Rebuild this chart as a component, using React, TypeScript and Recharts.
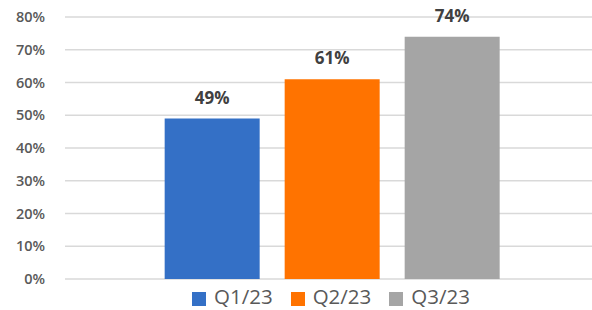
import { Bar, BarChart, CartesianGrid, LabelList, Legend, XAxis, YAxis } from 'recharts'

const categories = ['Q']
const q1 = [49]
const q2 = [61]
const q3 = [74]
const yTicks = [0, 10, 20, 30, 40, 50, 60, 70, 80]

const data = categories.map((name, i) => ({
  name,
  'Q1/23': q1[i],
  'Q2/23': q2[i],
  'Q3/23': q3[i],
}))

const FONT = '"Open Sans", sans-serif'

export default function App() {
  return (
    <div style={{ position: 'absolute', left: 0, top: 0, fontFamily: FONT }}>
      <BarChart
        width={592}
        height={310}
        data={data}
        margin={{ top: 17, right: -6, bottom: -6, left: 0 }}
        barCategoryGap="18.7%"
        barGap={25}
      >
        <CartesianGrid vertical={false} stroke="#d9d9d9" strokeWidth={1.5} />
        <XAxis dataKey="name" hide />
        <YAxis
          width={65}
          domain={[0, 80]}
          ticks={yTicks}
          interval={0}
          tickLine={false}
          axisLine={false}
          tickMargin={14}
          tickFormatter={(v) => `${v}%`}
          tick={{ fill: '#595959', fontSize: 14.5, fontWeight: 600, fontFamily: FONT }}
        />
        <Legend
          verticalAlign="bottom"
          align="left"
          height={31}
          iconType="square"
          iconSize={14}
          wrapperStyle={{
            left: 192,
            width: 330,
            paddingTop: 6,
            lineHeight: '22px',
            fontSize: 20.5,
            fontFamily: FONT,
          }}
          formatter={(value) => (
            <span style={{ color: '#595959', marginLeft: 4, marginRight: 8 }}>{value}</span>
          )}
        />
        <Bar dataKey="Q1/23" fill="#3470c6" isAnimationActive={false}>
          <LabelList dataKey="Q1/23" position="top" offset={15} formatter={(v) => `${v}%`} fill="#404040" fontSize={17} fontWeight={700} fontFamily={FONT} />
        </Bar>
        <Bar dataKey="Q2/23" fill="#ff7300" isAnimationActive={false}>
          <LabelList dataKey="Q2/23" position="top" offset={15} formatter={(v) => `${v}%`} fill="#404040" fontSize={17} fontWeight={700} fontFamily={FONT} />
        </Bar>
        <Bar dataKey="Q3/23" fill="#a5a5a5" isAnimationActive={false}>
          <LabelList dataKey="Q3/23" position="top" offset={15} formatter={(v) => `${v}%`} fill="#404040" fontSize={17} fontWeight={700} fontFamily={FONT} />
        </Bar>
      </BarChart>
    </div>
  )
}
